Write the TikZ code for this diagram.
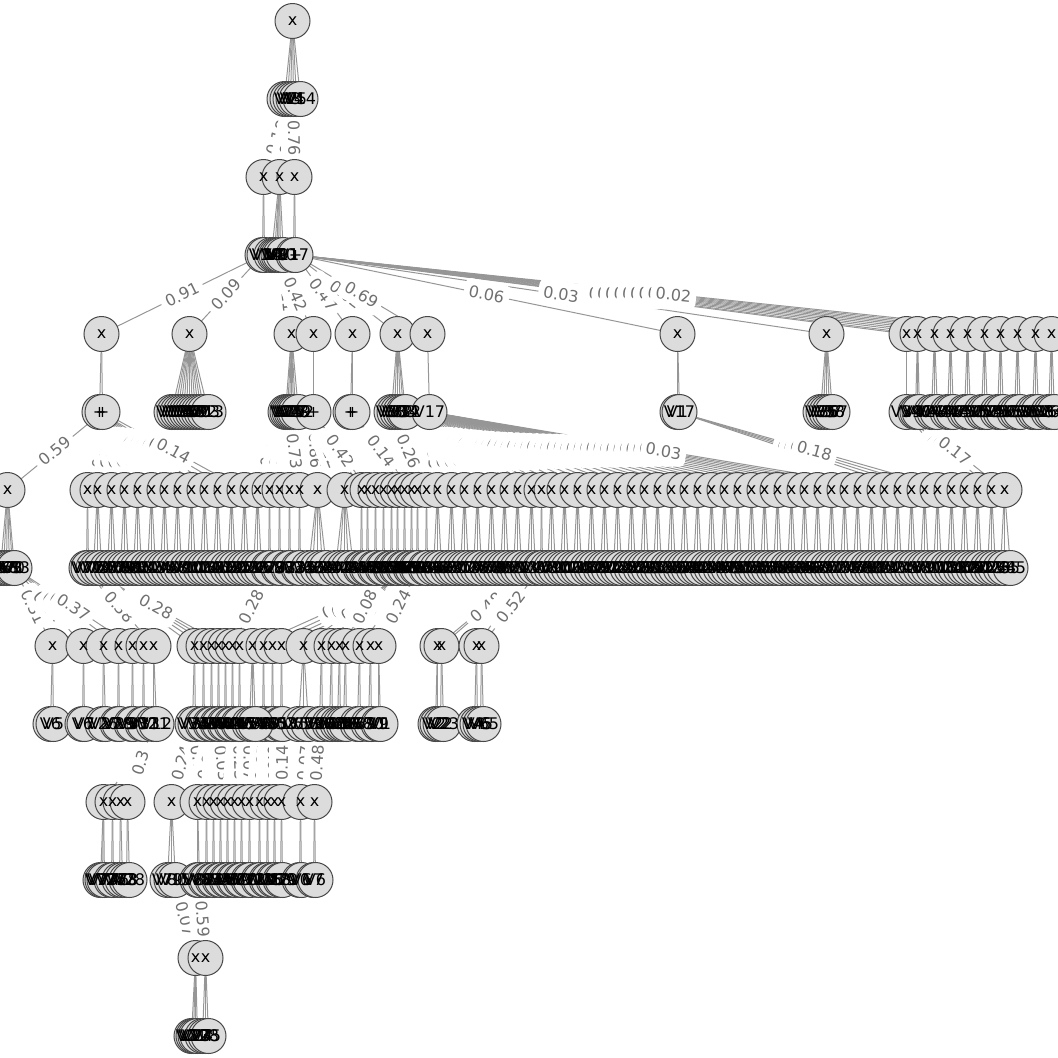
\documentclass[tikz,border=0pt]{standalone}
\usepackage{fontspec}
\setmainfont{DejaVu Sans}
\definecolor{nfill}{HTML}{DCDCDC}
\definecolor{nline}{HTML}{484848}
\definecolor{eline}{HTML}{969696}
\definecolor{ltext}{HTML}{707070}
\tikzset{
 nh/.style={circle,minimum size=35pt,inner sep=0pt,outer sep=0pt},
 nd/.style={circle,draw=nline,fill=nfill,line width=1pt,minimum size=35pt,inner sep=0pt,outer sep=0pt},
 txt/.style={inner sep=0pt,font=\fontsize{16}{16}\selectfont,text=black},
 edge/.style={draw=eline,line width=1pt},
 lab/.style={fill=white,text=ltext,inner xsep=5pt,inner ysep=7pt,rounded corners=5pt,font=\fontsize{16}{16}\selectfont,sloped,pos=0.5}
}
\newcount\vc
\newcount\passno
\newcommand{\Xs}[2]{\foreach \p in {#2}{%
 \ifcase\passno \node[nh](x#1-\p) at (\p,#1){};%
 \or\or\or \node[nd](cx#1-\p) at (x#1-\p){};%
 \or \node[txt](tx#1-\p) at (x#1-\p){x};%
 \fi}}
\newcommand{\kidsT}[4]{\foreach \o/\t in {#4}{\pgfmathtruncatemacro\ab{#3+\o}%
 \ifcase\passno \node[nh](r#2-\ab) at (\ab,#2){};%
 \or \draw[edge](x#1-#3)--(r#2-\ab);%
 \or\or \node[nd](cr#2-\ab) at (r#2-\ab){};%
 \or \node[txt](tr#2-\ab) at (r#2-\ab){\t};%
 \fi}}
\newcommand{\kids}[4]{\foreach \o in {#4}{\pgfmathtruncatemacro\ab{#3+\o}%
 \ifcase\passno \node[nh](r#2-\ab) at (\ab,#2){};%
 \or \draw[edge](x#1-#3)--(r#2-\ab);%
 \or\or \node[nd](cr#2-\ab) at (r#2-\ab){};%
 \or \global\advance\vc by 1 \ifnum\vc>84 \global\vc=1 \fi
  \node[txt](tr#2-\ab) at (r#2-\ab){V\the\vc};%
 \fi}}
\newcommand{\LE}[3]{%
 \ifcase\passno
 \or \draw[edge](#1)--(#2);%
 \or \path (#1)--node[lab]{#3}(#2);%
 \fi}
\newcommand{\TREE}{%
% ---- level 21/99
\Xs{21}{292}
\kids{21}{99}{292}{-8,-5,-2,1,4}
\kidsT{21}{99}{292}{8/V14}
% ---- level 177/255
\Xs{177}{263,279,294}
\LE{r99-284}{x177-263}{0.21}
\LE{r99-287}{x177-279}{0.32}
\LE{r99-290}{x177-263}{0.18}
\LE{r99-296}{x177-279}{0.24}
\LE{r99-300}{x177-279}{0.11}
\LE{r99-293}{x177-294}{0.76}
\kidsT{177}{255}{263}{-1/V1,1/V14}
\kids{177}{255}{279}{-8,-5,-3,-1,1,4}
\kidsT{177}{255}{294}{-1/V17,1/+}
% ---- level 334/412
\Xs{334}{101,189,291,313,352,397,427,677,826,906,917,934,950,967,984,1000,1017,1035,1051}
\LE{r255-262}{x334-101}{0.91}
\LE{r255-262}{x334-189}{0.09}
\LE{r255-295}{x334-291}{0.12}
\LE{r255-283}{x334-291}{0.11}
\LE{r255-295}{x334-352}{0.47}
\LE{r255-278}{x334-313}{0.42}
\LE{r255-295}{x334-397}{0.02}
\LE{r255-295}{x334-427}{0.69}
\LE{r255-295}{x334-677}{0.06}
\LE{r255-295}{x334-826}{0.03}
\foreach \t in {906,917,934,950,967,984,1000,1017,1035,1051}{\LE{r255-295}{x334-\t}{0.02}}
\kidsT{334}{412}{101}{-2/+,1/+}
\kids{334}{412}{189}{-18,-15,-12,-9,-6,-3,0,3,6,9,12,15}
\kidsT{334}{412}{189}{19/V13}
\kids{334}{412}{291}{-6,-4,-2,0,2,4}
\kidsT{334}{412}{291}{7/V12}
\kidsT{334}{412}{313}{0/+}
\kidsT{334}{412}{352}{-2/+,0/+}
\kids{334}{412}{397}{-6,-3,0,3,6}
\kidsT{334}{412}{397}{8/V32}
\kidsT{334}{412}{427}{2/V17}
\kidsT{334}{412}{677}{0/V1,2/V17}
\kids{334}{412}{826}{-6,-3,0,3}
\kidsT{334}{412}{826}{6/V57}
\kids{334}{412}{906}{0}
\kids{334}{412}{917}{-2,0,2}
\foreach \t in {934,950,967,984,1000,1017,1035,1051}{\kids{334}{412}{\t}{-3,0,3}}
% ---- level 490/568
\Xs{490}{7,87,97,111,124,137,151,164,177,191,204,217,231,244,257,269,279,289,299,317,344,361,367,375,383,391,397,404,411,417,426,437,451,464,477,491,504,517,531,541,551,564,577,591,604,617,631,644,657,671,684,697,711,724,737,751,764,777,791,804,817,831,844,857,871,884,897,911,924,937,951,964,977,991,1004}
\LE{r412-102}{x490-7}{0.59}
\foreach \t in {87,97,111,124,137,151,164,177,191,204,217,231}{\LE{r412-99}{x490-\t}{0.05}}
\LE{r412-102}{x490-244}{0.14}
\LE{r412-285}{x490-257}{0.07}
\LE{r412-287}{x490-269}{0.11}
\LE{r412-289}{x490-279}{0.06}
\LE{r412-291}{x490-289}{0.04}
\LE{r412-289}{x490-299}{0.73}
\LE{r412-313}{x490-317}{0.86}
\LE{r412-313}{x490-344}{0.12}
\LE{r412-313}{x490-361}{0.12}
\LE{r412-313}{x490-367}{0.42}
\foreach \t in {375,383,391,397,404}{\LE{r412-352}{x490-\t}{0.03}}
\LE{r412-352}{x490-411}{0.14}
\LE{r412-391}{x490-417}{0.07}
\LE{r412-391}{x490-426}{0.26}
\foreach \t in {437,451,464,477,491,504,517,531,541,551,564,577,591,604,617,631,644,657,671,684,697,711,724,737,751,764,777,791,804,817,831,844,857,871,884}{\LE{r412-429}{x490-\t}{0.03}}
\LE{r412-429}{x490-897}{0.03}
\foreach \t in {911,924,937}{\LE{r412-677}{x490-\t}{0.05}}
\LE{r412-677}{x490-951}{0.18}
\foreach \t in {964,977,991}{\LE{r412-906}{x490-\t}{0.09}}
\LE{r412-906}{x490-1004}{0.17}
\kids{490}{568}{7}{-7,-4,-1,2}
\kidsT{490}{568}{7}{5/V3,7/V13}
\kids{490}{568}{87}{-1,1}
\foreach \t in {97,111,124,137,151,164,177,191,204,217,231,244,257}{\kids{490}{568}{\t}{-4,0,4}}
\foreach \t in {269,279,289,299}{\kids{490}{568}{\t}{-1,1}}
\kids{490}{568}{317}{-9,-5,0,5,9}
\kids{490}{568}{344}{-9,-5,0,4,9}
\foreach \t in {361,367,375,383,391,397,404,411,417,426}{\kids{490}{568}{\t}{-1,1}}
\foreach \t in {437,451,464,477,491,504,517,531}{\kids{490}{568}{\t}{-4,0,4}}
\kids{490}{568}{541}{-1,1}
\foreach \t in {551,564,577,591,604,617,631,644,657,671,684,697,711,724,737,751,764,777,791,804,817,831,844,857,871,884,897,911,924,937,951,964,977,991}{\kids{490}{568}{\t}{-4,0,4}}
\kidsT{490}{568}{1004}{-4/V34,0/V35,6/V85}
% ---- level 646/724
\Xs{646}{52,83,103,118,132,143,153,194,203,211,218,225,232,239,252,263,272,281,303,321,331,339,345,359,370,378,437,441,476,481}
\LE{r568-14}{x646-52}{0.31}
\LE{r568-14}{x646-83}{0.04}
\LE{r568-14}{x646-103}{0.12}
\LE{r568-14}{x646-118}{0.21}
\LE{r568-14}{x646-132}{0.37}
\LE{r568-86}{x646-143}{0.13}
\LE{r568-86}{x646-153}{0.38}
\foreach \t in {194,203,211,218}{\LE{r568-86}{x646-\t}{0.06}}
\LE{r568-86}{x646-225}{0.28}
\LE{r568-270}{x646-239}{0.09}
\LE{r568-270}{x646-232}{0.28}
\LE{r568-425}{x646-252}{0.05}
\LE{r568-433}{x646-263}{0.05}
\LE{r568-441}{x646-272}{0.05}
\LE{r568-447}{x646-281}{0.05}
\LE{r568-410}{x646-303}{0.05}
\LE{r568-412}{x646-321}{0.05}
\LE{r568-403}{x646-331}{0.05}
\LE{r568-396}{x646-339}{0.05}
\LE{r568-384}{x646-345}{0.08}
\LE{r568-418}{x646-359}{0.07}
\LE{r568-418}{x646-370}{0.07}
\LE{r568-418}{x646-378}{0.24}
\LE{r568-531}{x646-437}{0.02}
\LE{r568-531}{x646-441}{0.48}
\LE{r568-531}{x646-476}{0.03}
\LE{r568-540}{x646-481}{0.52}
\kidsT{646}{724}{52}{-2/V6,1/V5}
\kidsT{646}{724}{83}{-1/V6,1/V7}
\kids{646}{724}{103}{-1,2}
\kids{646}{724}{118}{-1,1}
\kids{646}{724}{132}{-1,1}
\kids{646}{724}{143}{-1,1}
\kidsT{646}{724}{153}{0/V11,3/V12}
\kids{646}{724}{194}{-2,1}
\foreach \t in {203,211,218,225,232,239,263,272,281}{\kids{646}{724}{\t}{-1,1}}
\kids{646}{724}{252}{-3,0,3}
\kids{646}{724}{303}{-5,0,5}
\foreach \t in {321,331,339,345,359,370}{\kids{646}{724}{\t}{-2,1}}
\kidsT{646}{724}{378}{0/V9,2/V1}
\kidsT{646}{724}{437}{-2/V2,0/V22}
\kidsT{646}{724}{441}{-1/V2,2/V23}
\kidsT{646}{724}{476}{-2/V4,1/V45}
\kidsT{646}{724}{481}{-1/V6,2/V65}
% ---- level 802/880
\Xs{802}{103,112,120,127,171,197,206,213,220,227,234,241,249,259,267,274,281,300,314}
\LE{r724-156}{x802-103}{0.21}
\LE{r724-153}{x802-112}{0.17}
\LE{r724-153}{x802-120}{0.12}
\LE{r724-153}{x802-127}{0.3}
\LE{r724-192}{x802-171}{0.24}
\LE{r724-192}{x802-206}{0.66}
\foreach \t in {197,213,220,227}{\LE{r724-217}{x802-\t}{0.03}}
\LE{r724-240}{x802-234}{0.04}
\LE{r724-238}{x802-241}{0.23}
\LE{r724-249}{x802-249}{0.07}
\LE{r724-264}{x802-259}{0.05}
\LE{r724-271}{x802-267}{0.06}
\LE{r724-273}{x802-274}{0.06}
\LE{r724-282}{x802-281}{0.14}
\LE{r724-308}{x802-300}{0.07}
\LE{r724-319}{x802-314}{0.48}
\kids{802}{880}{103}{-3,-1,1}
\kids{802}{880}{112}{-1,1}
\kids{802}{880}{120}{-1,2}
\kidsT{802}{880}{127}{-1/V3,2/V28}
\kids{802}{880}{171}{-4,0}
\kidsT{802}{880}{171}{4/V15}
\kids{802}{880}{197}{0,2}
\kids{802}{880}{206}{-1,1}
\foreach \t in {213,220,227,234,241,249,259,267,274,281}{\kids{802}{880}{\t}{-1,1}}
\kidsT{802}{880}{300}{-1/V0,1/V6}
\kidsT{802}{880}{314}{-1/V7,1/V6}
% ---- level 958/1036
\Xs{958}{195,205}
\LE{r880-175}{x958-195}{0.07}
\LE{r880-199}{x958-205}{0.59}
\kids{958}{1036}{195}{-4,-2,0,2}
\kidsT{958}{1036}{205}{-3/V7,0/V75,3/V8}
}
\begin{document}
\begin{tikzpicture}[x=1pt,y=-1pt]
\useasboundingbox (0,0) rectangle (1058,1058);
\begin{scope}[xshift=0.5pt]
\global\passno=0 \TREE
\global\passno=1 \TREE
\global\passno=2 \TREE
\global\passno=3 \TREE
\global\passno=4 \global\vc=0 \TREE
\end{scope}
\end{tikzpicture}
\end{document}
